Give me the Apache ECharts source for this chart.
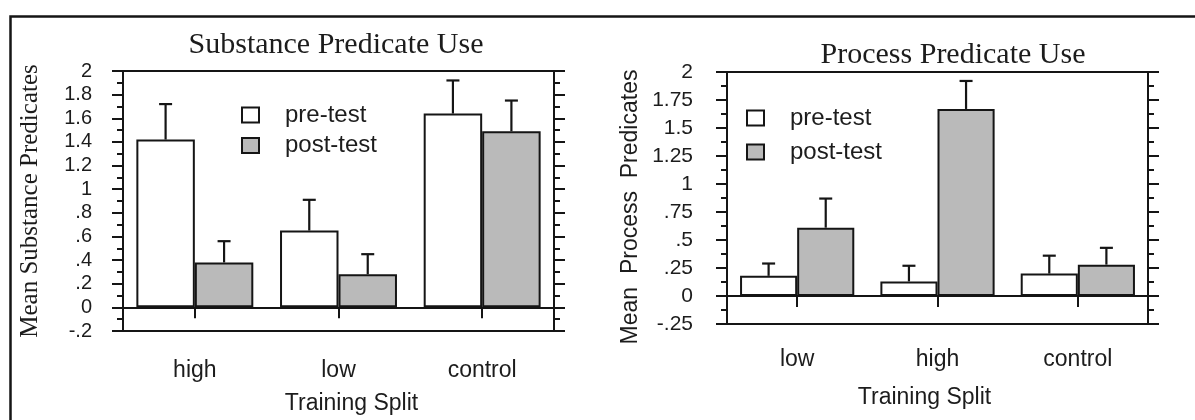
<!DOCTYPE html>
<html>
<head>
<meta charset="utf-8">
<script src="https://cdn.jsdelivr.net/npm/echarts@6/dist/echarts.min.js"></script>
<style>
  html, body { margin: 0; padding: 0; background: #fff; }
  #chart { width: 1195px; height: 420px; }
</style>
</head>
<body>
<div id="chart"></div>
<script>
// substance panel
const subCategories = ['high', 'low', 'control'];
const subPre = [1.42, 0.65, 1.64];
const subPreTop = [1.72, 0.91, 1.92];   // top of error bar
const subPost = [0.38, 0.28, 1.49];
const subPostTop = [0.56, 0.45, 1.75];
const subTickLabels = ['-.2', '0', '.2', '.4', '.6', '.8', '1', '1.2', '1.4', '1.6', '1.8', '2'];

// process panel
const procCategories = ['low', 'high', 'control'];
const procPre = [0.18, 0.13, 0.20];
const procPreTop = [0.29, 0.27, 0.36];
const procPost = [0.61, 1.67, 0.28];
const procPostTop = [0.87, 1.92, 0.43];
const procTickLabels = ['-.25', '0', '.25', '.5', '.75', '1', '1.25', '1.5', '1.75', '2'];

const seriesNames = ['pre-test', 'post-test'];

const INK = '#151515';
const TXT = '#1c1c1c';
const GRAY = '#bababa';
const SANS = 'Liberation Sans';
const SERIF = 'Liberation Serif';
const CAT_GAP = 0.186;

function errData(vals, tops) {
  return vals.map((v, i) => [i, v, tops[i]]);
}

// error bar drawn next to its bar, side = -1 (pre) or 1 (post)
function errorBar(side) {
  return function (params, api) {
    const base = api.coord([api.value(0), api.value(1)]);
    const top = api.coord([api.value(0), api.value(2)]);
    const catW = api.size([1, 0])[0];
    const barW = catW * (1 - CAT_GAP) / 2;
    const x = base[0] + side * barW / 2;
    const style = { stroke: INK, lineWidth: 2.2 };
    return {
      type: 'group',
      children: [
        { type: 'line', shape: { x1: x, y1: base[1], x2: x, y2: top[1] }, style: style },
        { type: 'line', shape: { x1: x - 6.5, y1: top[1], x2: x + 6.5, y2: top[1] }, style: style }
      ]
    };
  };
}

function valueAxis(gridIndex, pos, min, max, interval, labels, fontSize, margin, name, nameStyle, nameGap) {
  return {
    type: 'value',
    gridIndex: gridIndex,
    position: pos,
    min: min,
    max: max,
    interval: interval,
    name: pos === 'left' ? name : '',
    nameLocation: 'middle',
    nameGap: nameGap,
    nameTextStyle: nameStyle,
    axisLine: { show: true, lineStyle: { color: INK, width: 2 } },
    axisTick: { show: true, inside: false, length: 11, lineStyle: { color: INK, width: 2 } },
    minorTick: { show: true, splitNumber: 2, length: 6, lineStyle: { color: INK, width: 2 } },
    axisLabel: {
      show: pos === 'left',
      margin: margin,
      fontFamily: SANS,
      fontSize: fontSize,
      color: TXT,
      formatter: (v, i) => labels[i]
    },
    splitLine: { show: false }
  };
}

function catAxis(gridIndex, cats, margin, nameGap, namePad) {
  return {
    type: 'category',
    gridIndex: gridIndex,
    data: cats,
    name: 'Training Split',
    nameLocation: 'middle',
    nameGap: nameGap,
    nameTextStyle: { fontFamily: SANS, fontSize: 23, color: TXT, padding: namePad },
    axisLine: { show: true, lineStyle: { color: INK, width: 2 } },
    axisTick: { show: true, alignWithLabel: true, length: 11, lineStyle: { color: INK, width: 2 } },
    axisLabel: { margin: margin, fontFamily: SANS, fontSize: 23, color: TXT },
    splitLine: { show: false }
  };
}

function barSeries(name, data, xi, yi, color, withZero) {
  const s = {
    name: name,
    type: 'bar',
    xAxisIndex: xi,
    yAxisIndex: yi,
    data: data,
    barGap: '0%',
    barCategoryGap: (CAT_GAP * 100) + '%',
    itemStyle: { color: color, borderColor: INK, borderWidth: 2 },
    emphasis: { disabled: true }
  };
  if (withZero) {
    s.markLine = {
      silent: true,
      symbol: ['none', 'none'],
      label: { show: false },
      lineStyle: { color: INK, width: 1.6, type: 'solid' },
      data: [{ yAxis: 0 }]
    };
  }
  return s;
}

function errSeries(data, xi, yi, side) {
  return {
    type: 'custom',
    xAxisIndex: xi,
    yAxisIndex: yi,
    data: data,
    encode: { x: 0, y: [1, 2] },
    renderItem: errorBar(side),
    silent: true,
    z: 3
  };
}

function legendAt(left, top, gap) {
  return {
    left: left,
    top: top,
    orient: 'vertical',
    data: seriesNames,
    icon: 'rect',
    itemWidth: 17,
    itemHeight: 15,
    itemGap: gap,
    selectedMode: false,
    itemStyle: { borderColor: INK, borderWidth: 2 },
    textStyle: { fontFamily: SANS, fontSize: 24, color: TXT, padding: [0, 0, 0, 21] }
  };
}

const chart = echarts.init(document.getElementById('chart'), null, { renderer: 'canvas' });

const option = {
  animation: false,
  backgroundColor: '#fff',
  title: [
    {
      text: 'Substance Predicate Use',
      left: 331, top: 25, textAlign: 'center',
      textStyle: { fontFamily: SERIF, fontSize: 30, fontWeight: 'normal', color: TXT }
    },
    {
      text: 'Process Predicate Use',
      left: 948, top: 35, textAlign: 'center',
      textStyle: { fontFamily: SERIF, fontSize: 30, fontWeight: 'normal', color: TXT }
    }
  ],
  legend: [legendAt(236, 98, 6.5), legendAt(741, 101, 10)],
  grid: [
    { left: 123, top: 71, width: 431, height: 262, show: true, borderColor: INK, borderWidth: 2, backgroundColor: 'transparent' },
    { left: 727, top: 72, width: 421, height: 252, show: true, borderColor: INK, borderWidth: 2, backgroundColor: 'transparent' }
  ],
  xAxis: [
    catAxis(0, subCategories, 28, 61, [0, 0, 0, 26]),
    catAxis(1, procCategories, 24, 62, [0, 26, 0, 0])
  ],
  yAxis: [
    valueAxis(0, 'left', -0.2, 2, 0.2, subTickLabels, 20, 31, 'Mean Substance Predicates',
      { fontFamily: SERIF, fontSize: 25, color: TXT }, 80),
    valueAxis(0, 'right', -0.2, 2, 0.2, subTickLabels, 20, 31, '', {}, 80),
    valueAxis(1, 'left', -0.25, 2, 0.25, procTickLabels, 21, 34, 'Mean  Process  Predicates',
      { fontFamily: SANS, fontSize: 23, color: TXT, padding: [0, 18, 0, 0] }, 85),
    valueAxis(1, 'right', -0.25, 2, 0.25, procTickLabels, 21, 34, '', {}, 85)
  ],
  graphic: [
    {
      type: 'rect',
      left: 8, top: 14,
      shape: { width: 1200, height: 420 },
      style: { fill: 'none', stroke: INK, lineWidth: 2.5 },
      silent: true
    }
  ],
  series: [
    barSeries(seriesNames[0], subPre, 0, 0, '#fff', true),
    barSeries(seriesNames[1], subPost, 0, 0, GRAY, false),
    errSeries(errData(subPre, subPreTop), 0, 0, -1),
    errSeries(errData(subPost, subPostTop), 0, 0, 1),
    barSeries(seriesNames[0], procPre, 1, 2, '#fff', true),
    barSeries(seriesNames[1], procPost, 1, 2, GRAY, false),
    errSeries(errData(procPre, procPreTop), 1, 2, -1),
    errSeries(errData(procPost, procPostTop), 1, 2, 1)
  ]
};

chart.setOption(option);
</script>
</body>
</html>
